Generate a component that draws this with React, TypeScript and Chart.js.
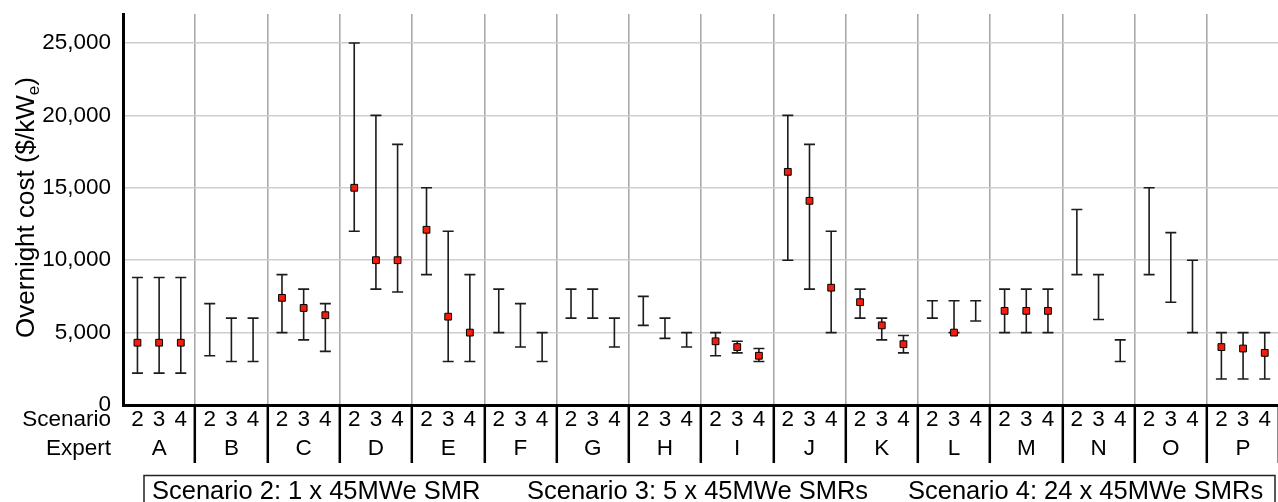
import React, { useEffect, useRef } from 'react';
import { Chart, registerables } from 'chart.js';

Chart.register(...registerables);

// ---------- data ----------
const experts = ['A', 'B', 'C', 'D', 'E', 'F', 'G', 'H', 'I', 'J', 'K', 'L', 'M', 'N', 'O', 'P'];
const scenarios = ['2', '3', '4'];
const legendLabels = ['Scenario 2: 1 x 45MWe SMR', 'Scenario 3: 5 x 45MWe SMRs', 'Scenario 4: 24 x 45MWe SMRs'];
const yTickValues = [0, 5000, 10000, 15000, 20000, 25000];
const rowLabels = ['Scenario', 'Expert'];
const yTitleMain = 'Overnight cost ($/kW';
const yTitleSub = 'e';
const yTitleEnd = ')';

// Scenario 2
const s2Low = [2200, 3400, 5000, 12000, 9000, 5000, 6000, 5500, 3400, 10000, 6000, 6000, 5000, 9000, 9000, 1800];
const s2Mid = [4300, null, 7400, 15000, 12100, null, null, null, 4400, 16100, 7100, null, 6500, null, null, 4000];
const s2High = [8800, 7000, 9000, 25000, 15000, 8000, 8000, 7500, 5000, 20000, 8000, 7200, 8000, 13500, 15000, 5000];
// Scenario 3
const s3Low = [2200, 3000, 4500, 8000, 3000, 4000, 6000, 4600, 3600, 8000, 4500, 5000, 5000, 5900, 7100, 1800];
const s3Mid = [4300, null, 6700, 10000, 6100, null, null, null, 4000, 14100, 5500, 5000, 6500, null, null, 3900];
const s3High = [8800, 6000, 8000, 20000, 12000, 7000, 8000, 6000, 4400, 18000, 6000, 7200, 8000, 9000, 11900, 5000];
// Scenario 4
const s4Low = [2200, 3000, 3700, 7800, 3000, 3000, 4000, 4000, 3000, 5000, 3600, 5800, 5000, 3000, 5000, 1800];
const s4Mid = [4300, null, 6200, 10000, 5000, null, null, null, 3400, 8100, 4200, null, 6500, null, null, 3600];
const s4High = [8800, 6000, 7000, 18000, 9000, 5000, 6000, 5000, 3900, 12000, 4800, 7200, 8000, 4500, 10000, 5000];

const lows = [s2Low, s3Low, s4Low];
const mids = [s2Mid, s3Mid, s4Mid];
const highs = [s2High, s3High, s4High];

// ---------- layout / style ----------
const SLOT = 3; // x units per expert
const OFFSETS = [0.6, 1.5, 2.4];
const FONT = "'Liberation Sans', Arial, Helvetica, sans-serif";
const TICK_FONT_SIZE = 22.5;
const LINE_H = 29;

function xPos(expertIdx: number, scenIdx: number) {
  return expertIdx * SLOT + OFFSETS[scenIdx];
}

// x ticks: boundary, s2, s3, s4 for each expert, then final boundary
const xTickValues: number[] = [];
experts.forEach((_, i) => {
  xTickValues.push(i * SLOT);
  scenarios.forEach((__, s) => xTickValues.push(xPos(i, s)));
});
xTickValues.push(experts.length * SLOT);

const errorBarPlugin = {
  id: 'errorBars',
  beforeDatasetsDraw(chart: any) {
    const { ctx, scales } = chart;
    const xs = scales.x;
    const ys = scales.y;
    ctx.save();
    ctx.strokeStyle = '#1c1c1c';
    ctx.lineWidth = 1.6;
    const cap = 5.5;
    scenarios.forEach((_, s) => {
      experts.forEach((__, i) => {
        const lo = lows[s][i];
        const hi = highs[s][i];
        if (lo == null || hi == null) return;
        const px = xs.getPixelForValue(xPos(i, s));
        const pl = ys.getPixelForValue(lo);
        const ph = ys.getPixelForValue(hi);
        ctx.beginPath();
        ctx.moveTo(px, pl);
        ctx.lineTo(px, ph);
        ctx.moveTo(px - cap, pl);
        ctx.lineTo(px + cap, pl);
        ctx.moveTo(px - cap, ph);
        ctx.lineTo(px + cap, ph);
        ctx.stroke();
      });
    });
    ctx.restore();
  },
};

const annotationPlugin = {
  id: 'annotations',
  afterDraw(chart: any) {
    const { ctx, chartArea } = chart;
    ctx.save();
    ctx.fillStyle = '#000';

    // row labels left of x axis
    ctx.font = `${TICK_FONT_SIZE}px ${FONT}`;
    ctx.textAlign = 'right';
    ctx.textBaseline = 'middle';
    rowLabels.forEach((t, k) => {
      ctx.fillText(t, chartArea.left - 12, chartArea.bottom + 14.5 + k * LINE_H);
    });

    // y axis title with subscript
    const mainSize = 26;
    const subSize = 17;
    ctx.font = `${mainSize}px ${FONT}`;
    const w1 = ctx.measureText(yTitleMain).width;
    const w3 = ctx.measureText(yTitleEnd).width;
    ctx.font = `${subSize}px ${FONT}`;
    const w2 = ctx.measureText(yTitleSub).width;
    const total = w1 + w2 + w3;
    ctx.translate(34, (chartArea.top + chartArea.bottom) / 2 - 2);
    ctx.rotate(-Math.PI / 2);
    ctx.textAlign = 'left';
    ctx.textBaseline = 'alphabetic';
    let x0 = -total / 2;
    ctx.font = `${mainSize}px ${FONT}`;
    ctx.fillText(yTitleMain, x0, 0);
    x0 += w1;
    ctx.font = `${subSize}px ${FONT}`;
    ctx.fillText(yTitleSub, x0, 5);
    x0 += w2;
    ctx.font = `${mainSize}px ${FONT}`;
    ctx.fillText(yTitleEnd, x0, 0);
    ctx.restore();

    // legend box
    ctx.save();
    ctx.strokeStyle = '#222';
    ctx.lineWidth = 1.5;
    const boxLeft = 144;
    const boxTop = 475.5;
    ctx.strokeRect(boxLeft, boxTop, 1131, 40);
    ctx.fillStyle = '#000';
    ctx.font = `25.5px ${FONT}`;
    ctx.textAlign = 'left';
    ctx.textBaseline = 'alphabetic';
    const starts = [152, 527, 908];
    legendLabels.forEach((t, k) => ctx.fillText(t, starts[k], 498.5));
    ctx.restore();
  },
};

export default function App() {
  const canvasRef = useRef<HTMLCanvasElement | null>(null);

  useEffect(() => {
    const canvas = canvasRef.current;
    if (!canvas) return;
    const datasets = scenarios.map((s, si) => ({
      label: 'Scenario ' + s,
      data: experts.map((_, i) => ({ x: xPos(i, si), y: mids[si][i] })),
      showLine: false,
      pointStyle: 'rect',
      pointRadius: 4.8,
      pointHoverRadius: 4.8,
      backgroundColor: '#f21d0b',
      borderColor: '#000',
      borderWidth: 1,
    }));

    const chart = new Chart(canvas, {
      type: 'scatter',
      data: { datasets: datasets as any },
      options: {
        animation: false,
        responsive: false,
        devicePixelRatio: 1,
        layout: { padding: { top: 14, right: 0, left: 0, bottom: 0 } },
        plugins: {
          legend: { display: false },
          tooltip: { enabled: false },
        },
        scales: {
          x: {
            type: 'linear',
            min: 0,
            max: experts.length * SLOT,
            afterBuildTicks: (scale: any) => {
              scale.ticks = xTickValues.map((v) => ({ value: v }));
            },
            afterFit: (scale: any) => {
              scale.height = 97;
              scale.paddingLeft = 0;
              scale.paddingRight = 0;
            },
            border: { color: '#000', width: 3 },
            grid: {
              drawOnChartArea: true,
              drawTicks: true,
              tickLength: 58,
              color: (c: any) => (c.index % 4 === 0 ? '#a9a9a9' : 'rgba(0,0,0,0)'),
              lineWidth: 1.6,
              tickColor: (c: any) => (c.index % 4 === 0 && c.index > 0 ? '#000' : 'rgba(0,0,0,0)'),
              tickWidth: 2.5,
            },
            ticks: {
              autoSkip: false,
              maxRotation: 0,
              minRotation: 0,
              padding: -57.5,
              color: '#000',
              font: { family: FONT, size: TICK_FONT_SIZE, lineHeight: LINE_H / TICK_FONT_SIZE },
              callback: (_v: any, index: number) => {
                if (index % 4 === 0) return '';
                const e = Math.floor(index / 4);
                const s = (index % 4) - 1;
                return [scenarios[s], s === 1 ? experts[e] : ''];
              },
            },
          },
          y: {
            type: 'linear',
            min: 0,
            max: 27000,
            afterBuildTicks: (scale: any) => {
              scale.ticks = yTickValues.map((v) => ({ value: v }));
            },
            afterFit: (scale: any) => {
              scale.width = 123;
              scale.paddingTop = 0;
              scale.paddingBottom = 0;
            },
            border: { color: '#000', width: 3 },
            grid: {
              color: '#cdcdcd',
              lineWidth: 1.5,
              drawTicks: false,
            },
            ticks: {
              padding: 12,
              color: '#000',
              font: { family: FONT, size: TICK_FONT_SIZE },
              callback: (v: any) => Number(v).toLocaleString('en-US'),
            },
          },
        },
      },
      plugins: [errorBarPlugin, annotationPlugin],
    } as any);

    return () => chart.destroy();
  }, []);

  return (
    <div
      style={{
        position: 'absolute',
        left: 0,
        top: 0,
        width: 1278,
        height: 502,
        overflow: 'hidden',
        background: '#fff',
      }}
    >
      <canvas ref={canvasRef} width={1285} height={502} style={{ display: 'block' }} />
    </div>
  );
}
